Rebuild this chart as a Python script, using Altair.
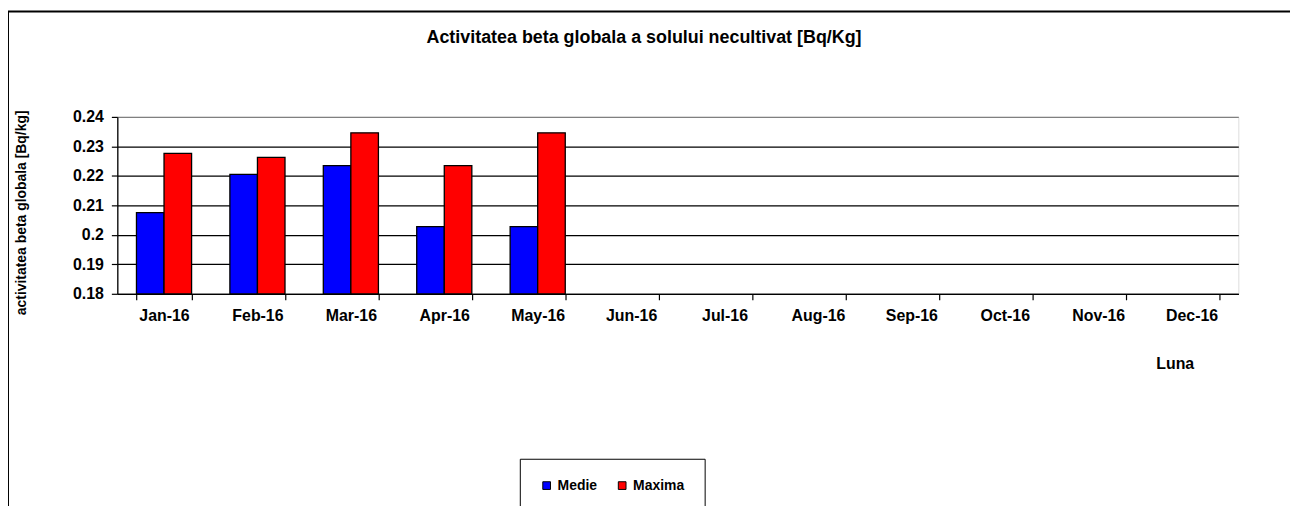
import altair as alt
import pandas as pd

# ---- data ----
months = ["Jan-16", "Feb-16", "Mar-16", "Apr-16", "May-16", "Jun-16",
          "Jul-16", "Aug-16", "Sep-16", "Oct-16", "Nov-16", "Dec-16"]
measured_months = ["Jan-16", "Feb-16", "Mar-16", "Apr-16", "May-16"]
medie = [0.2075, 0.2205, 0.2235, 0.2028, 0.2028]
maxima = [0.2276, 0.2263, 0.2346, 0.2235, 0.2346]
series = ["Medie", "Maxima"]
colors = ["#0000FF", "#FF0000"]
y_ticks = [0.18, 0.19, 0.20, 0.21, 0.22, 0.23, 0.24]
chart_title = "Activitatea beta globala a solului necultivat [Bq/Kg]"

rows = []
for m, a, b in zip(measured_months, medie, maxima):
    rows.append({"luna": m, "serie": "Medie", "valoare": a})
    rows.append({"luna": m, "serie": "Maxima", "valoare": b})
df = pd.DataFrame(rows)

FONT = "Liberation Sans"
W, H = 1128, 178

bars = alt.Chart(df).mark_bar(stroke="black", strokeWidth=1.3).encode(
    x=alt.X(
        "luna:N",
        sort=months,
        scale=alt.Scale(domain=months, paddingInner=0.41, paddingOuter=0.205),
        axis=alt.Axis(
            title="Luna",
            labelAngle=0,
            tickBand="extent",
            domainColor="black",
            domainWidth=1.2,
            tickColor="black",
            tickWidth=1.2,
            tickSize=6,
            labelPadding=8,
            labelFont=FONT,
            labelFontSize=16,
            labelFontWeight="bold",
            labelColor="black",
            titleFont=FONT,
            titleFontSize=16,
            titleFontWeight="bold",
            titleColor="black",
            titleX=1064,
            titleY=70,
            titleAlign="center",
            titleBaseline="middle",
        ),
    ),
    xOffset=alt.XOffset(
        "serie:N",
        sort=series,
        scale=alt.Scale(domain=series, paddingInner=0, paddingOuter=0),
    ),
    y=alt.Y(
        "valoare:Q",
        scale=alt.Scale(domain=[0.18, 0.24], zero=False, nice=False),
        axis=alt.Axis(
            title="activitatea beta globala [Bq/kg]",
            values=y_ticks,
            format=".2~f",
            grid=True,
            gridColor={"condition": {"test": "datum.value > 0.2395", "value": "#808080"}, "value": "black"},
            gridWidth=1.3,
            domainColor="black",
            domainWidth=1.3,
            tickColor="black",
            tickWidth=1.2,
            tickSize=6,
            labelPadding=8,
            labelFont=FONT,
            labelFontSize=16,
            labelFontWeight="bold",
            labelColor="black",
            titleFont=FONT,
            titleFontSize=14,
            titleFontWeight="bold",
            titleColor="black",
            titleAngle=270,
            titleX=-96,
            titleY=96,
            titleAlign="center",
            titleBaseline="middle",
        ),
    ),
    y2=alt.datum(0.18),
    color=alt.Color(
        "serie:N",
        sort=series,
        scale=alt.Scale(domain=series, range=colors),
        legend=alt.Legend(
            title=None,
            orient="none",
            legendX=405,
            legendY=344,
            direction="horizontal",
            strokeColor="black",
            fillColor="white",
            padding=20,
            symbolType="square",
            symbolSize=60,
            symbolStrokeColor="black",
            symbolStrokeWidth=1,
            labelFont=FONT,
            labelFontSize=14,
            labelFontWeight="bold",
            labelColor="black",
            columnPadding=18,
            labelOffset=4,
        ),
    ),
)

frame_df = pd.DataFrame({"f": [0]})
frame_left = alt.Chart(frame_df).mark_rule(color="black", strokeWidth=2, clip=False).encode(
    x=alt.value(-110), y=alt.value(-106), y2=alt.value(420)
)
frame_top = alt.Chart(frame_df).mark_rule(color="black", strokeWidth=2, clip=False).encode(
    x=alt.value(-110), x2=alt.value(1200), y=alt.value(-106)
)
title_df = pd.DataFrame({"t": [chart_title]})
title_mark = alt.Chart(title_df).mark_text(
    font=FONT, fontSize=18, fontWeight="bold", color="black",
    align="center", baseline="middle", clip=False,
).encode(
    text="t:N", x=alt.value(530), y=alt.value(-79)
)

chart = alt.layer(frame_left, frame_top, title_mark, bars).properties(
    width=W,
    height=H,
    autosize=alt.AutoSizeParams(type="none"),
    padding={"left": 110, "top": 108, "right": 52, "bottom": 220},
).configure_view(
    stroke="#808080", strokeWidth=1.5
).configure(background="white")

chart.save("out.html", embed_options={"renderer": "svg", "actions": False})
